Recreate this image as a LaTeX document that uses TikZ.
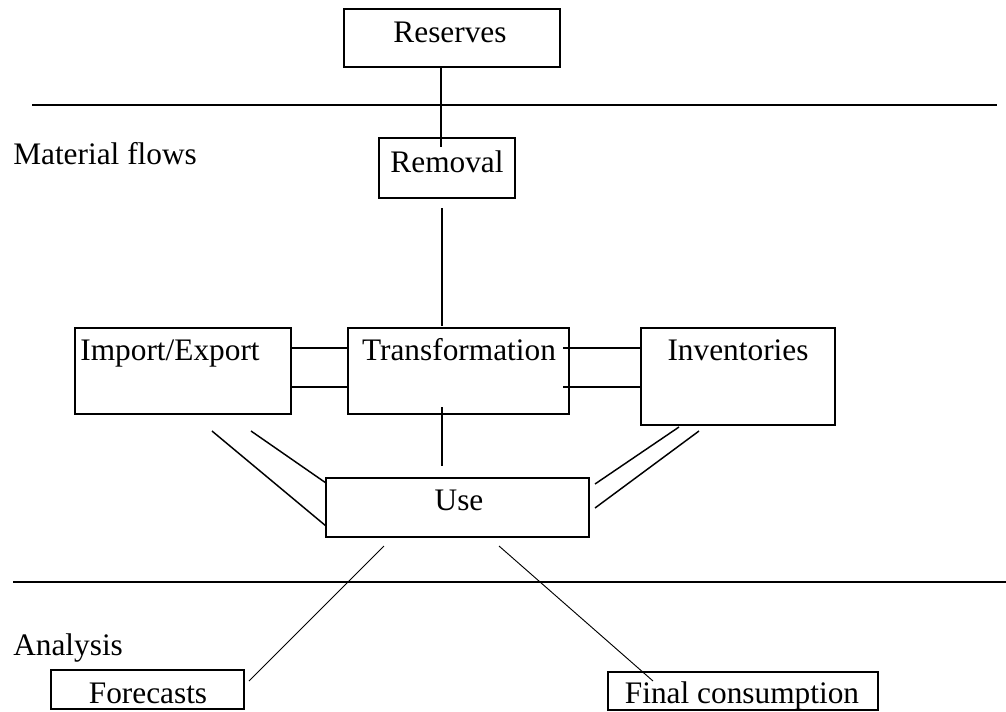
\documentclass[tikz,border=0pt]{standalone}
\usepackage{fontspec}
\setmainfont{Liberation Serif}
\usetikzlibrary{calc}
\begin{document}
\begin{tikzpicture}[x=0.75pt,y=-0.75pt,
  box/.style={draw, line width=1.5pt, inner sep=0pt},
  lbl/.style={inner sep=0pt, font=\fontsize{23.5}{28}\selectfont},
  link/.style={line width=1.1pt},
  thinlink/.style={line width=0.7pt},
  rule/.style={line width=2pt}]
\useasboundingbox (0,0) rectangle (1006,711);

% boxes
\node[box, minimum width=162pt,    minimum height=43.5pt]  (res)   at (452,38)    {};
\node[box, minimum width=102pt,    minimum height=45pt]    (rem)   at (447,168)   {};
\node[box, minimum width=162pt,    minimum height=64.5pt]  (imp)   at (183,371)   {};
\node[box, minimum width=165.75pt, minimum height=64.5pt]  (trf)   at (458.5,371) {};
\node[box, minimum width=145.5pt,  minimum height=72.75pt] (inv)   at (738,376.5) {};
\node[box, minimum width=197.25pt, minimum height=44.25pt] (use)   at (457.5,507.5) {};
\node[box, minimum width=144.75pt, minimum height=29.25pt] (fc)    at (147.5,689.5) {};
\node[box, minimum width=202.5pt,  minimum height=28.5pt]  (fin)   at (743,691)   {};

% box texts
\node[lbl, anchor=base] (resT) at (450,42)  {Reserves};
\node[lbl, anchor=base] (remT) at (447,172) {Removal};
\node[lbl, anchor=base] (impT) at (170,360) {Import/Export};
\node[lbl, anchor=base] (trfT) at (459,360) {Transformation};
\node[lbl, anchor=base] (invT) at (738,360) {Inventories};
\node[lbl, anchor=base] (useT) at (459,510) {Use};
\node[lbl, anchor=base] (fcT)  at (148,703) {Forecasts};
\node[lbl, anchor=base] (finT) at (742,703) {Final consumption};

% level labels
\node[lbl, anchor=base west] (matT) at (13,164) {Material flows};
\node[lbl, anchor=base west] (anaT) at (13,655) {Analysis};

% level separators
\coordinate (r1a) at (32,105);  \coordinate (r1b) at (997,105);
\coordinate (r2a) at (13,582);  \coordinate (r2b) at (1006,582);
\draw[rule] (r1a) -- (r1b);
\draw[rule] (r2a) -- (r2b);

% free ends of the connectors
\coordinate (a1) at (441,147);
\coordinate (a2) at (442,208);  \coordinate (a3) at (442,326);
\coordinate (a4) at (442,407);  \coordinate (a5) at (442,466);
\coordinate (t1) at (563,348);  \coordinate (t2) at (563,387);
\coordinate (i1) at (212,431);  \coordinate (i2) at (326,526);
\coordinate (i3) at (251,431);  \coordinate (i4) at (326,483);
\coordinate (v1) at (679,427);  \coordinate (v2) at (595,484);
\coordinate (v3) at (699,431);  \coordinate (v4) at (595,508);
\coordinate (u1) at (384,546);  \coordinate (u2) at (249,681);
\coordinate (u3) at (499,546);  \coordinate (u4) at (653,681);

% vertical chain
\draw[link] (res.south -| a1) -- (a1);
\draw[link] (a2) -- (a3);
\draw[link] (a4) -- (a5);

% Import/Export -- Transformation
\draw[link] (imp.east |- t1) -- (trf.west |- t1);
\draw[link] (imp.east |- t2) -- (trf.west |- t2);
% Transformation -- Inventories
\draw[link] (t1) -- (inv.west |- t1);
\draw[link] (t2) -- (inv.west |- t2);

% to Use
\draw[link] (i1) -- (i2);
\draw[link] (i3) -- (i4);
\draw[link] (v1) -- (v2);
\draw[link] (v3) -- (v4);

% from Use to the analysis boxes
\draw[thinlink] (u1) -- (u2);
\draw[thinlink] (u3) -- (u4);
\end{tikzpicture}
\end{document}
